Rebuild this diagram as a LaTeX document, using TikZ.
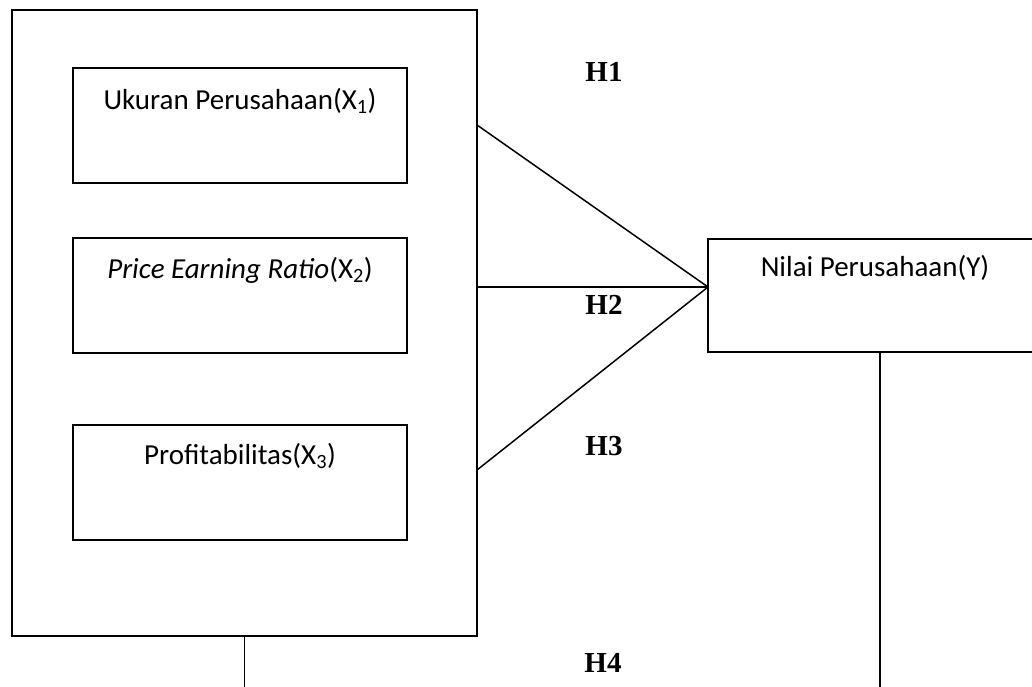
\documentclass[tikz,border=0pt]{standalone}
\usepackage{fontspec}
\setmainfont{Carlito}
\newfontfamily\hfont{Liberation Serif}
\begin{document}
\begin{tikzpicture}[x=1pt,y=-1pt,
  box/.style={draw=black,line width=1.5pt,rectangle,inner sep=0pt},
  txt/.style={inner sep=0pt,font=\fontsize{29}{32}\selectfont},
  hlab/.style={inner sep=0pt,font=\hfont\bfseries\fontsize{29}{32}\selectfont},
  conn/.style={line width=1.5pt}]
\useasboundingbox (0,0) rectangle (1032,687);
\node[box,minimum width=465pt,minimum height=626pt] (outer) at (244.5,323) {};
\node[box,minimum width=334pt,minimum height=115pt] (b1) at (240,125.5) {};
\node[box,minimum width=334pt,minimum height=115pt] (b2) at (240,295.5) {};
\node[box,minimum width=334pt,minimum height=115pt] (b3) at (240,482.5) {};
\node[box,minimum width=344pt,minimum height=113pt] (rb) at (880,295.5) {};
\node[txt] (t1) at (240,101) {Ukuran Perusahaan(X\textsubscript{1})};
\node[txt] (t2) at (240,270) {\textit{Price Earning Ratio}(X\textsubscript{2})};
\node[txt] (t3) at (240,456) {Profitabilitas(X\textsubscript{3})};
\node[txt] (ty) at (875,268) {Nilai Perusahaan(Y)};
\node[hlab] (h1) at (604,72) {H1};
\node[hlab] (h2) at (604,305) {H2};
\node[hlab] (h3) at (604,446) {H3};
\node[hlab] (h4) at (603,663) {H4};
\coordinate (p1) at (477,125);
\coordinate (p2) at (477,287);
\coordinate (p3) at (477,470);
\coordinate (c) at (708,287);
\coordinate (e1) at (244.5,690);
\coordinate (e2) at (880,690);
\draw[conn] (p1) -- (c);
\draw[conn] (p2) -- (c);
\draw[conn] (p3) -- (c);
\draw[conn] (outer.south) -- (e1);
\draw[conn] (rb.south) -- (e2);
\end{tikzpicture}
\end{document}
